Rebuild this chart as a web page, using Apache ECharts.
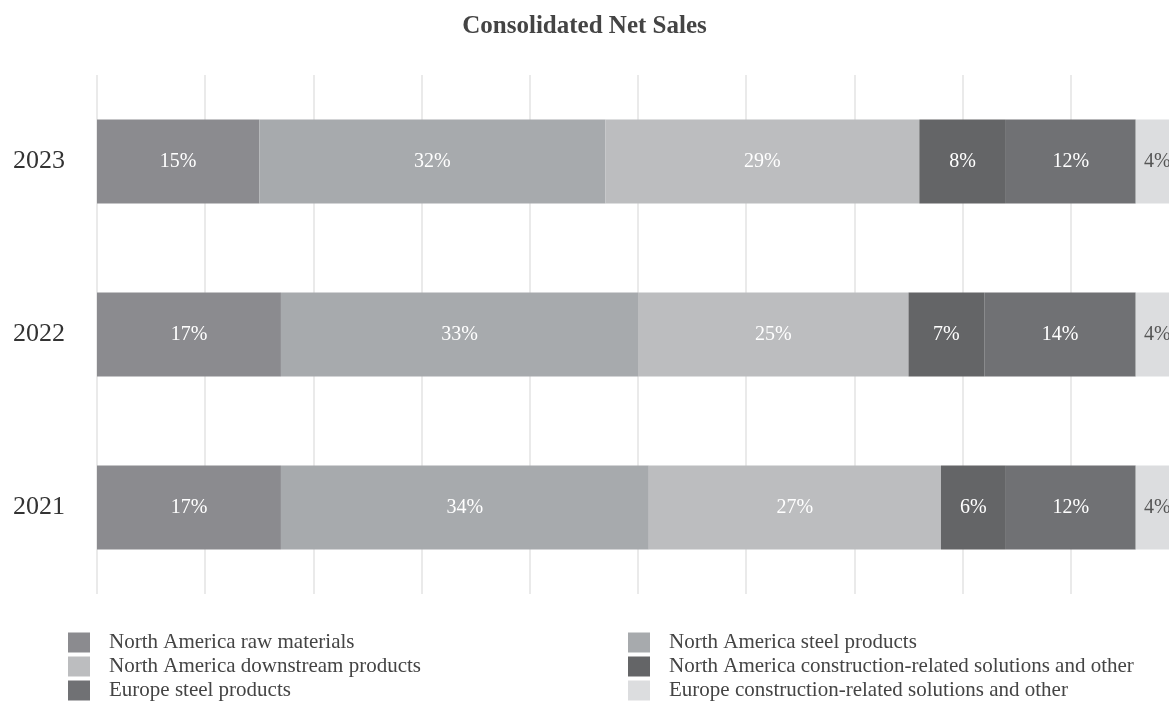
<!DOCTYPE html>
<html>
<head>
<meta charset="utf-8">
<script src="https://cdn.jsdelivr.net/npm/echarts@6/dist/echarts.min.js"></script>
<style>
  html, body { margin: 0; padding: 0; background: #fff; }
  #main { width: 1169px; height: 702px; }
</style>
</head>
<body>
<div id="main"></div>
<script>
// 数据
var years = ['2021', '2022', '2023'];
var naRaw = [17, 17, 15];
var naSteel = [34, 33, 32];
var naDown = [27, 25, 29];
var naConst = [6, 7, 8];
var euSteel = [12, 14, 12];
var euConst = [4, 4, 4];

var names = [
  'North America raw materials',
  'North America steel products',
  'North America downstream products',
  'North America construction-related solutions and other',
  'Europe steel products',
  'Europe construction-related solutions and other'
];
var colors = ['#8b8b8f', '#a7aaad', '#bcbdbf', '#646567', '#707174', '#dcdddf'];
var values = [naRaw, naSteel, naDown, naConst, euSteel, euConst];

var font = '"Liberation Serif", "Times New Roman", serif';

function makeSeries(i) {
  return {
    name: names[i],
    type: 'bar',
    stack: 'total',
    barWidth: 84,
    data: values[i],
    itemStyle: { color: colors[i] },
    label: {
      show: true,
      position: 'inside',
      formatter: '{c}%',
      fontFamily: font,
      fontSize: 20,
      color: i == 5 ? '#555' : '#fff'
    },
    emphasis: { disabled: true }
  };
}

var series = [];
for (var i = 0; i < names.length; i++) {
  series.push(makeSeries(i));
}

//图例
function makeLegend(left, list) {
  return {
    orient: 'vertical',
    left: left,
    top: 632,
    padding: 0,
    itemWidth: 22,
    itemHeight: 20,
    itemGap: 3,
    icon: 'rect',
    data: list,
    textStyle: { fontFamily: font, fontSize: 21, lineHeight: 20, color: '#444', padding: [0, 0, 0, 14] }
  };
}

var myChart = echarts.init(document.getElementById('main'), null, {renderer: 'canvas'});
myChart.setOption({
  animation: false,
  color: colors,
  title: {
    text: 'Consolidated Net Sales',
    left: 'center',
    top: 9,
    textStyle: { fontFamily: font, fontSize: 25, fontWeight: 'bold', color: '#444' }
  },
  grid: { left: 97, width: 1082, top: 75, height: 519, outerBoundsMode: 'none', containLabel: false },
  xAxis: {
    type: 'value',
    min: 0,
    max: 100,
    interval: 10,
    axisLabel: { show: false },
    axisLine: { show: false },
    axisTick: { show: false },
    splitLine: { show: true, lineStyle: { color: '#e3e3e3', width: 1.5 } }
  },
  yAxis: {
    type: 'category',
    data: years,
    axisLine: { show: false },
    axisTick: { show: false },
    axisLabel: { fontFamily: font, fontSize: 26, color: '#333', margin: 32 }
  },
  legend: [
    makeLegend(68, [names[0], names[2], names[4]]),
    makeLegend(628, [names[1], names[3], names[5]])
  ],
  series: series
});
</script>
</body>
</html>
